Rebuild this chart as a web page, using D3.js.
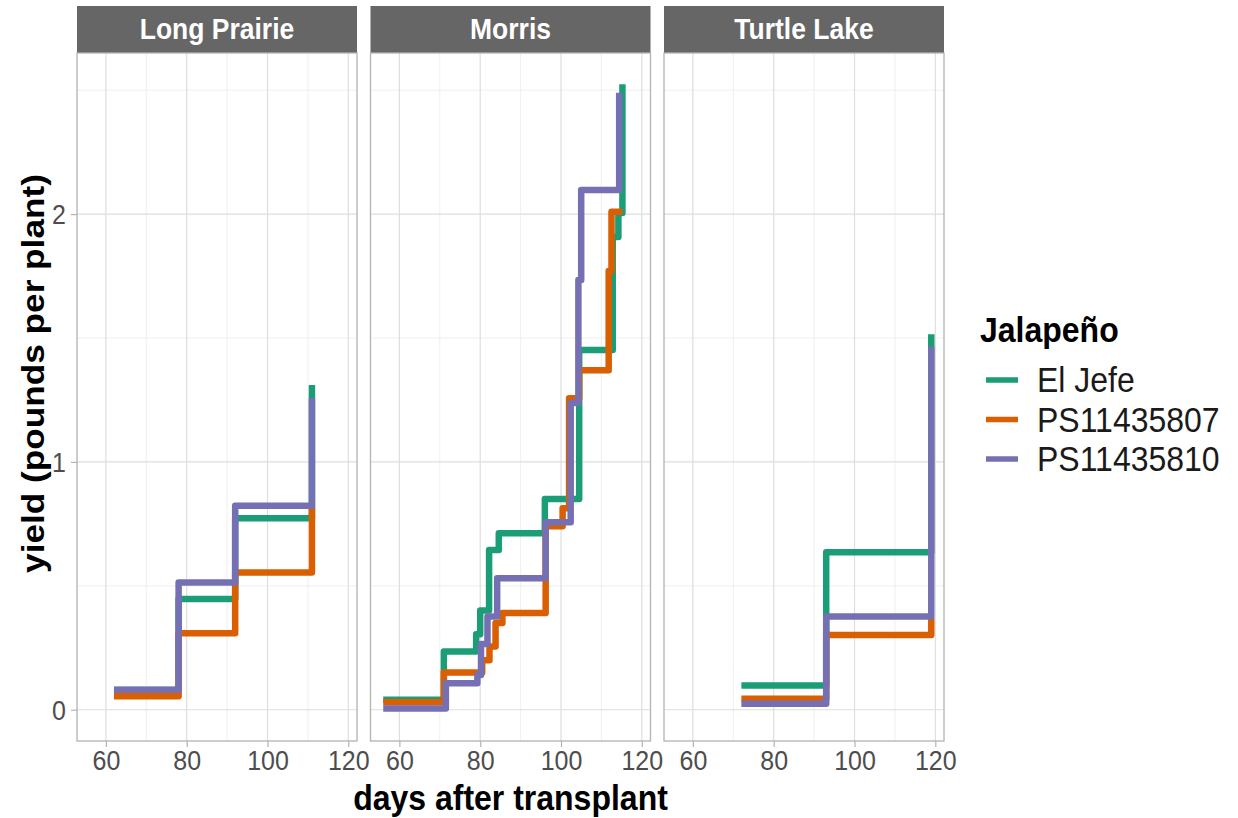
<!DOCTYPE html>
<html>
<head>
<meta charset="utf-8">
<script src="https://cdn.jsdelivr.net/npm/d3@7"></script>
<style>
  html, body { margin: 0; padding: 0; background: #ffffff; }
  svg { display: block; font-family: "Liberation Sans", Arial, sans-serif; }
</style>
</head>
<body>
<svg id="chart" width="1238" height="818"></svg>
<script>
// Cumulative jalapeño yield (pounds per plant) by days after transplant.
const locations = ["Long Prairie", "Morris", "Turtle Lake"];
const varieties = ["El Jefe", "PS11435807", "PS11435810"];
const varietyColors = ["#1B9E77", "#D95F02", "#7570B3"];

// [day, cumulative yield] per harvest
const longPrairieElJefe = [[62, 0.08], [78, 0.447], [92, 0.773], [111, 1.31]];
const longPrairiePS807  = [[62, 0.054], [78, 0.309], [92, 0.554], [111, 0.82]];
const longPrairiePS810  = [[62, 0.081], [78, 0.513], [92, 0.823], [111, 1.258]];

const morrisElJefe = [[56, 0.04], [71, 0.235], [79, 0.305], [80, 0.40], [82.2, 0.645], [84.6, 0.712],
                      [96, 0.85], [104.5, 1.452], [112.8, 1.908], [114.2, 2.005], [115.2, 2.524]];
const morrisPS807  = [[56, 0.03], [71, 0.15], [80.5, 0.2], [82.3, 0.255], [83.8, 0.35], [85.5, 0.39],
                      [96.2, 0.74], [100.4, 0.813], [102, 1.257], [104.5, 1.37], [111.8, 1.77],
                      [112.5, 2.01], [115.2, 2.01]];
const morrisPS810  = [[56, 0.005], [71.5, 0.107], [79.3, 0.14], [80.2, 0.265], [81.8, 0.376], [84.2, 0.531],
                      [96.2, 0.757], [102.4, 1.238], [104.3, 1.734], [105, 2.097], [114.4, 2.49]];

const turtleLakeElJefe = [[72, 0.098], [93, 0.636], [119, 1.515]];
const turtleLakePS807  = [[72, 0.044], [93, 0.302], [119, 0.37]];
const turtleLakePS810  = [[72, 0.024], [93, 0.376], [119, 1.465]];

const xTicks = [60, 80, 100, 120];
const xMinor = [70, 90, 110];
const yTicks = [0, 1, 2];
const yMinor = [0.5, 1.5, 2.5];

const seriesByLocation = [
  [longPrairieElJefe, longPrairiePS807, longPrairiePS810],
  [morrisElJefe, morrisPS807, morrisPS810],
  [turtleLakeElJefe, turtleLakePS807, turtleLakePS810]
];

// ---- layout ----
const panelLefts = [77, 370.5, 664];
const panelW = 280;
const stripTop = 6, panelTop = 53, panelBottom = 741;
const panelH = panelBottom - panelTop;
const textStretch = 1.1;   // glyphs are drawn slightly taller than wide

// shared scales with 5% padding on each side
const allPts = seriesByLocation.flat(2);
const xExt = d3.extent(allPts, d => d[0]);
const yExt = [0, d3.max(allPts, d => d[1])];
const xPad = (xExt[1] - xExt[0]) * 0.05;
const yPad = (yExt[1] - yExt[0]) * 0.05;
const x = d3.scaleLinear().domain([xExt[0] - xPad, xExt[1] + xPad]).range([0, panelW]);
const y = d3.scaleLinear().domain([yExt[0] - yPad, yExt[1] + yPad]).range([panelH, 0]);

const line = d3.line()
  .x(d => x(d[0]))
  .y(d => y(d[1]))
  .curve(d3.curveStepAfter);

const svg = d3.select("#chart");
svg.append("rect").attr("width", 1238).attr("height", 818).attr("fill", "#ffffff");

// places a text element at (tx, ty) with the vertical stretch applied
function place(sel, tx, ty, rot) {
  return sel.attr("x", 0).attr("y", 0)
    .attr("transform", `translate(${tx},${ty}) scale(1,${textStretch})` + (rot ? ` rotate(${rot})` : ""));
}

locations.forEach((loc, i) => {
  const g = svg.append("g").attr("transform", `translate(${panelLefts[i]},0)`);

  // strip
  g.append("rect")
    .attr("x", 0).attr("y", stripTop)
    .attr("width", panelW).attr("height", panelTop - stripTop)
    .attr("fill", "#666666");
  place(g.append("text"), panelW / 2, (stripTop + panelTop) / 2)
    .attr("text-anchor", "middle").attr("dominant-baseline", "central")
    .attr("fill", "#ffffff").attr("font-weight", "bold").attr("font-size", 26.5)
    .text(loc);

  const p = g.append("g").attr("transform", `translate(0,${panelTop})`);

  // grid
  p.append("g").selectAll("line").data(xMinor).join("line")
    .attr("x1", d => x(d)).attr("x2", d => x(d)).attr("y1", 0).attr("y2", panelH)
    .attr("stroke", "#ebebeb").attr("stroke-width", 0.8);
  p.append("g").selectAll("line").data(yMinor).join("line")
    .attr("y1", d => y(d)).attr("y2", d => y(d)).attr("x1", 0).attr("x2", panelW)
    .attr("stroke", "#ebebeb").attr("stroke-width", 0.8);
  p.append("g").selectAll("line").data(xTicks).join("line")
    .attr("x1", d => x(d)).attr("x2", d => x(d)).attr("y1", 0).attr("y2", panelH)
    .attr("stroke", "#dedede").attr("stroke-width", 1.2);
  p.append("g").selectAll("line").data(yTicks).join("line")
    .attr("y1", d => y(d)).attr("y2", d => y(d)).attr("x1", 0).attr("x2", panelW)
    .attr("stroke", "#dedede").attr("stroke-width", 1.2);

  // step lines
  seriesByLocation[i].forEach((pts, k) => {
    p.append("path")
      .datum(pts)
      .attr("d", line)
      .attr("fill", "none")
      .attr("stroke", varietyColors[k])
      .attr("stroke-width", 6.5)
      .attr("stroke-linejoin", "round")
      .attr("stroke-linecap", "butt");
  });

  // border
  p.append("rect")
    .attr("x", 0).attr("y", 0).attr("width", panelW).attr("height", panelH)
    .attr("fill", "none").attr("stroke", "#b3b3b3").attr("stroke-width", 1.3);

  // x axis
  const xa = p.append("g").attr("transform", `translate(0,${panelH})`)
    .call(d3.axisBottom(x).tickValues(xTicks).tickSize(6).tickFormat(d3.format("d")));
  xa.select(".domain").remove();
  xa.selectAll(".tick line").attr("stroke", "#b3b3b3").attr("stroke-width", 1.2);
  xa.selectAll(".tick text").each(function () {
    place(d3.select(this), 0, 20).attr("dy", null).attr("dominant-baseline", "central");
  }).attr("fill", "#4d4d4d").attr("font-size", 25)
    .attr("font-family", "Liberation Sans, Arial, sans-serif");

  if (i === 0) {
    const ya = p.append("g")
      .call(d3.axisLeft(y).tickValues(yTicks).tickSize(6).tickFormat(d3.format("d")));
    ya.select(".domain").remove();
    ya.selectAll(".tick line").attr("stroke", "#b3b3b3").attr("stroke-width", 1.2);
    ya.selectAll(".tick text").each(function () {
      place(d3.select(this), -11, 0).attr("dy", null).attr("dominant-baseline", "central");
    }).attr("fill", "#4d4d4d").attr("font-size", 25)
      .attr("font-family", "Liberation Sans, Arial, sans-serif");
  }
});

// axis titles, centred on the facet area (strips included)
const plotCenterX = (panelLefts[0] + panelLefts[2] + panelW) / 2;
place(svg.append("text"), plotCenterX, 798)
  .attr("text-anchor", "middle").attr("dominant-baseline", "central")
  .attr("font-weight", "bold").attr("font-size", 32).attr("fill", "#000000")
  .text("days after transplant");
place(svg.append("text"), 33, (stripTop + panelBottom) / 2, -90)
  .attr("text-anchor", "middle").attr("dominant-baseline", "central")
  .attr("font-weight", "bold").attr("font-size", 32).attr("fill", "#000000")
  .text("yield (pounds per plant)");

// legend
const legend = svg.append("g").attr("transform", "translate(980,0)");
place(legend.append("text"), 0, 330)
  .attr("dominant-baseline", "central")
  .attr("font-weight", "bold").attr("font-size", 32).attr("fill", "#000000")
  .text("Jalapeño");
const legendY = d3.scalePoint().domain(varieties).range([380, 459]);
varieties.forEach((v, k) => {
  legend.append("line")
    .attr("x1", 6).attr("x2", 38)
    .attr("y1", legendY(v)).attr("y2", legendY(v))
    .attr("stroke", varietyColors[k]).attr("stroke-width", 5.5);
  place(legend.append("text"), 57, legendY(v))
    .attr("dominant-baseline", "central")
    .attr("font-size", 32).attr("fill", "#1a1a1a")
    .text(v);
});
</script>
</body>
</html>
